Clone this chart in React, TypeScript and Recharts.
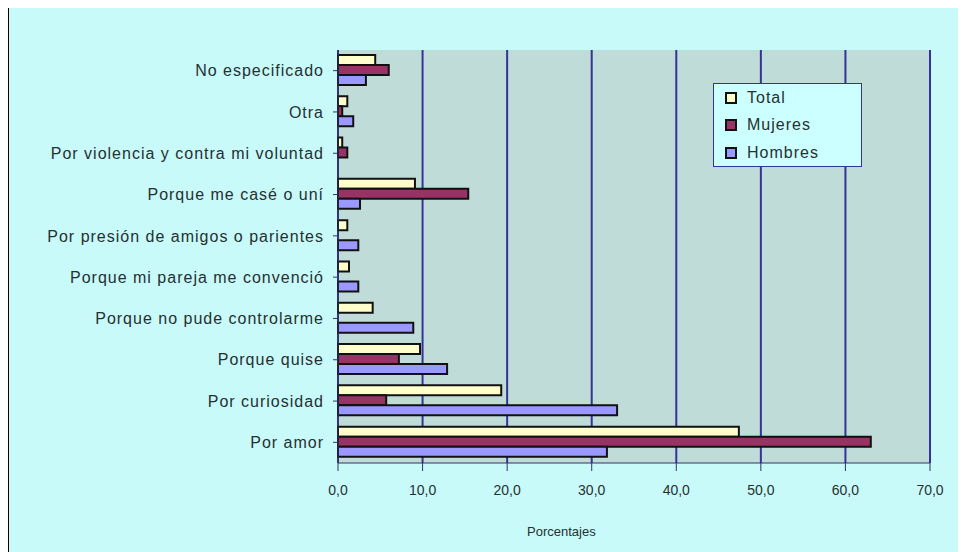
import React from 'react'
import { BarChart, Bar, XAxis, YAxis, CartesianGrid, Legend } from 'recharts'

const categories = [
  'No especificado',
  'Otra',
  'Por violencia y contra mi voluntad',
  'Porque me casé o uní',
  'Por presión de amigos o parientes',
  'Porque mi pareja me convenció',
  'Porque no pude controlarme',
  'Porque quise',
  'Por curiosidad',
  'Por amor',
]
const total = [4.4, 1.1, 0.5, 9.1, 1.1, 1.3, 4.1, 9.7, 19.3, 47.4]
const mujeres = [6.0, 0.5, 1.1, 15.4, 0, 0, 0, 7.2, 5.7, 63.0]
const hombres = [3.3, 1.8, 0, 2.6, 2.4, 2.4, 8.9, 12.9, 33.0, 31.8]
const xTicks = [0, 10, 20, 30, 40, 50, 60, 70]

const seriesInfo = [
  { key: 'total', name: 'Total', color: '#ffffcc' },
  { key: 'mujeres', name: 'Mujeres', color: '#993366' },
  { key: 'hombres', name: 'Hombres', color: '#9999ff' },
]

const data = categories.map((name, i) => ({
  name,
  total: total[i],
  mujeres: mujeres[i],
  hombres: hombres[i],
}))

const FONT = '"Liberation Sans", Arial, sans-serif'
const TEXT = '#263030'

// legend drawn as a boxed list, like the spreadsheet original
const LegendBox = () => (
  <div
    style={{
      width: 149,
      height: 84,
      background: '#ccffff',
      border: '1px solid #333399',
      boxSizing: 'border-box',
      padding: '0 0 0 11px',
      fontFamily: FONT,
      fontSize: 16,
      letterSpacing: 1,
      color: TEXT,
      textAlign: 'left',
    }}
  >
    {seriesInfo.map((s) => (
      <div key={s.key} style={{ display: 'flex', alignItems: 'center', height: 27.5 }}>
        <span
          style={{
            display: 'inline-block',
            width: 8,
            height: 8,
            background: s.color,
            border: '2px solid #111',
            marginRight: 10,
          }}
        />
        <span>{s.name}</span>
      </div>
    ))}
  </div>
)

export default function App() {
  return (
    <div
      style={{
        position: 'relative',
        marginTop: -1,
        width: 958,
        height: 545,
        background: '#c8fafa',
        borderLeft: '1px solid #000',
        borderTop: '1px solid #000',
        boxSizing: 'border-box',
        overflow: 'hidden',
      }}
    >
      <BarChart
        width={957}
        height={544}
        data={data}
        layout="vertical"
        margin={{ top: 42, right: 36, bottom: 0, left: 0 }}
        barCategoryGap="12%"
        barGap={0}
      >
        <CartesianGrid
          horizontal={false}
          stroke="#333399"
          strokeWidth={2}
          fill="#c0dcd8"
        />
        <XAxis
          type="number"
          domain={[0, 70]}
          ticks={xTicks}
          interval={0}
          tickFormatter={(v: number) => v.toFixed(1).replace('.', ',')}
          axisLine={{ stroke: '#333366' }}
          tickLine={{ stroke: '#333366' }}
          tickSize={8}
          tickMargin={14}
          height={89}
          tick={{ fontSize: 14, fill: TEXT, fontFamily: FONT }}
        />
        <YAxis
          type="category"
          dataKey="name"
          width={329}
          interval={0}
          axisLine={{ stroke: '#333366' }}
          tickLine={{ stroke: '#333366' }}
          tickSize={5}
          tickMargin={9}
          tick={{ fontSize: 16, fill: TEXT, fontFamily: FONT, letterSpacing: 1 }}
        />
        <Legend
          layout="horizontal"
          align="center"
          verticalAlign="middle"
          content={<LegendBox />}
          wrapperStyle={{ left: 704, top: 75, width: 149 }}
        />
        {seriesInfo.map((s) => (
          <Bar
            key={s.key}
            dataKey={s.key}
            name={s.name}
            fill={s.color}
            stroke="#111"
            strokeWidth={2}
            isAnimationActive={false}
          />
        ))}
      </BarChart>
      <div
        style={{
          position: 'absolute',
          left: 518,
          top: 516,
          fontFamily: FONT,
          fontSize: 13,
          color: TEXT,
        }}
      >
        Porcentajes
      </div>
    </div>
  )
}
